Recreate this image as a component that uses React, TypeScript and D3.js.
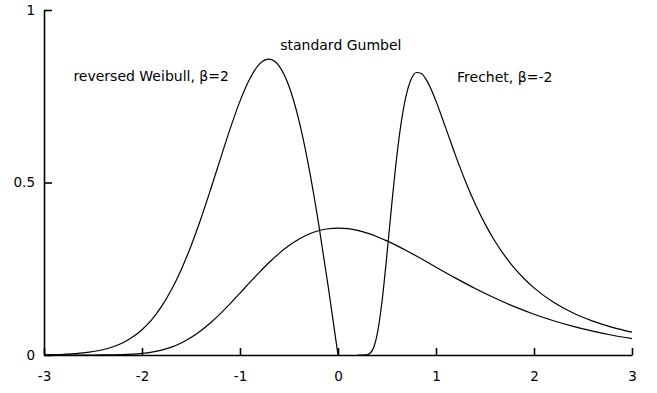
import * as d3 from 'd3';
import React, { useRef, useEffect } from 'react';

// density curves, [x, y]
const gumbel: [number, number][] = [
  [-3, 0], [-2.6, 0], [-2.4, 0.0002], [-2.2, 0.0011], [-2.1, 0.0023], [-2, 0.0046],
  [-1.9, 0.0084], [-1.8, 0.0143], [-1.7, 0.0229], [-1.6, 0.035], [-1.5, 0.0507],
  [-1.4, 0.0703], [-1.3, 0.0935], [-1.2, 0.12], [-1.1, 0.1489], [-1, 0.1794],
  [-0.9, 0.2103], [-0.8, 0.2403], [-0.7, 0.2688], [-0.6, 0.2946], [-0.5, 0.3171],
  [-0.4, 0.3356], [-0.3, 0.35], [-0.2, 0.3601], [-0.1, 0.366], [0, 0.3679],
  [0.1, 0.3661], [0.2, 0.3611], [0.3, 0.3532], [0.4, 0.3429], [0.5, 0.3307],
  [0.6, 0.317], [0.7, 0.3022], [0.8, 0.2867], [0.9, 0.2708], [1, 0.2546],
  [1.2, 0.2229], [1.4, 0.1927], [1.6, 0.165], [1.8, 0.1401], [2, 0.1182],
  [2.2, 0.0992], [2.4, 0.0829], [2.6, 0.069], [2.8, 0.0572], [3, 0.0474]
];

const weibull: [number, number][] = [
  [-3, 0.0007], [-2.8, 0.0022], [-2.6, 0.006], [-2.4, 0.0151], [-2.2, 0.0348],
  [-2.1, 0.0511], [-2, 0.0733], [-1.9, 0.1028], [-1.8, 0.141], [-1.7, 0.189],
  [-1.6, 0.2474], [-1.5, 0.3162], [-1.4, 0.3944], [-1.3, 0.4798], [-1.2, 0.5686],
  [-1.1, 0.656], [-1, 0.7358], [-0.9, 0.8007], [-0.8, 0.8437], [-0.75, 0.8547],
  [-0.7, 0.8577], [-0.65, 0.852], [-0.6, 0.8372], [-0.5, 0.7788], [-0.4, 0.6817],
  [-0.3, 0.5484], [-0.2, 0.3843], [-0.1, 0.198], [0, 0]
];

const frechet: [number, number][] = [
  [0.2, 0], [0.25, 0], [0.3, 0.0011], [0.35, 0.0133], [0.4, 0.0603], [0.45, 0.1573],
  [0.5, 0.2931], [0.55, 0.4409], [0.6, 0.5757], [0.65, 0.6829], [0.7, 0.7576],
  [0.75, 0.8013], [0.8, 0.8188], [0.85, 0.816], [0.9, 0.7982], [0.95, 0.7703],
  [1, 0.7358], [1.1, 0.6575], [1.2, 0.578], [1.3, 0.5038], [1.4, 0.4376],
  [1.5, 0.38], [1.6, 0.3304], [1.7, 0.288], [1.8, 0.2519], [1.9, 0.2211],
  [2, 0.1947], [2.2, 0.1528], [2.4, 0.1216], [2.6, 0.0982], [2.8, 0.0802], [3, 0.0663]
];

const xTicks = [-3, -2, -1, 0, 1, 2, 3];
const yTicks = [0, 0.5, 1];

const labels = [
  { text: 'reversed Weibull, β=2', x: -2.7, y: 0.793 },
  { text: 'standard Gumbel', x: -0.59, y: 0.884 },
  { text: 'Frechet, β=-2', x: 1.215, y: 0.79 }
];

const W = 657;
const H = 393;

function App() {
  const ref = useRef<SVGSVGElement>(null);

  useEffect(() => {
    const svg = d3.select(ref.current);
    svg.selectAll('*').remove();

    const x = d3.scaleLinear().domain([-3, 3]).range([44, 632]);
    const y = d3.scaleLinear().domain([0, 1]).range([355, 10]);
    const font = '"DejaVu Sans", sans-serif';

    const line = d3.line<[number, number]>()
      .x(d => x(d[0]))
      .y(d => y(d[1]))
      .curve(d3.curveMonotoneX);

    [gumbel, weibull, frechet].forEach(s => {
      svg.append('path')
        .datum(s)
        .attr('d', line)
        .attr('fill', 'none')
        .attr('stroke', '#000')
        .attr('stroke-width', 1.2);
    });

    const xAxis = svg.append('g')
      .attr('transform', `translate(0,${y(0)})`)
      .call(d3.axisBottom(x).tickValues(xTicks).tickSizeInner(-7).tickSizeOuter(0)
        .tickPadding(16).tickFormat(d => String(d)));
    const yAxis = svg.append('g')
      .attr('transform', `translate(${x(-3)},0)`)
      .call(d3.axisLeft(y).tickValues(yTicks).tickSizeInner(-8).tickSizeOuter(0)
        .tickPadding(9).tickFormat(d => String(d)));

    [xAxis, yAxis].forEach(g => {
      g.selectAll('path,line').attr('stroke', '#000').attr('stroke-width', 1.6);
      g.selectAll('text').attr('fill', '#000').style('font-family', font).style('font-size', '13.5px');
    });

    svg.append('g')
      .selectAll('text')
      .data(labels)
      .enter().append('text')
      .attr('x', d => x(d.x))
      .attr('y', d => y(d.y))
      .attr('fill', '#000')
      .style('font-family', font)
      .style('font-size', '14px')
      .text(d => d.text);
  }, []);

  return (
    <div style={{ position: 'absolute', left: 0, top: 0 }}>
      <svg ref={ref} width={W} height={H} style={{ display: 'block', background: '#fff' }}></svg>
    </div>
  );
}

export default App;
